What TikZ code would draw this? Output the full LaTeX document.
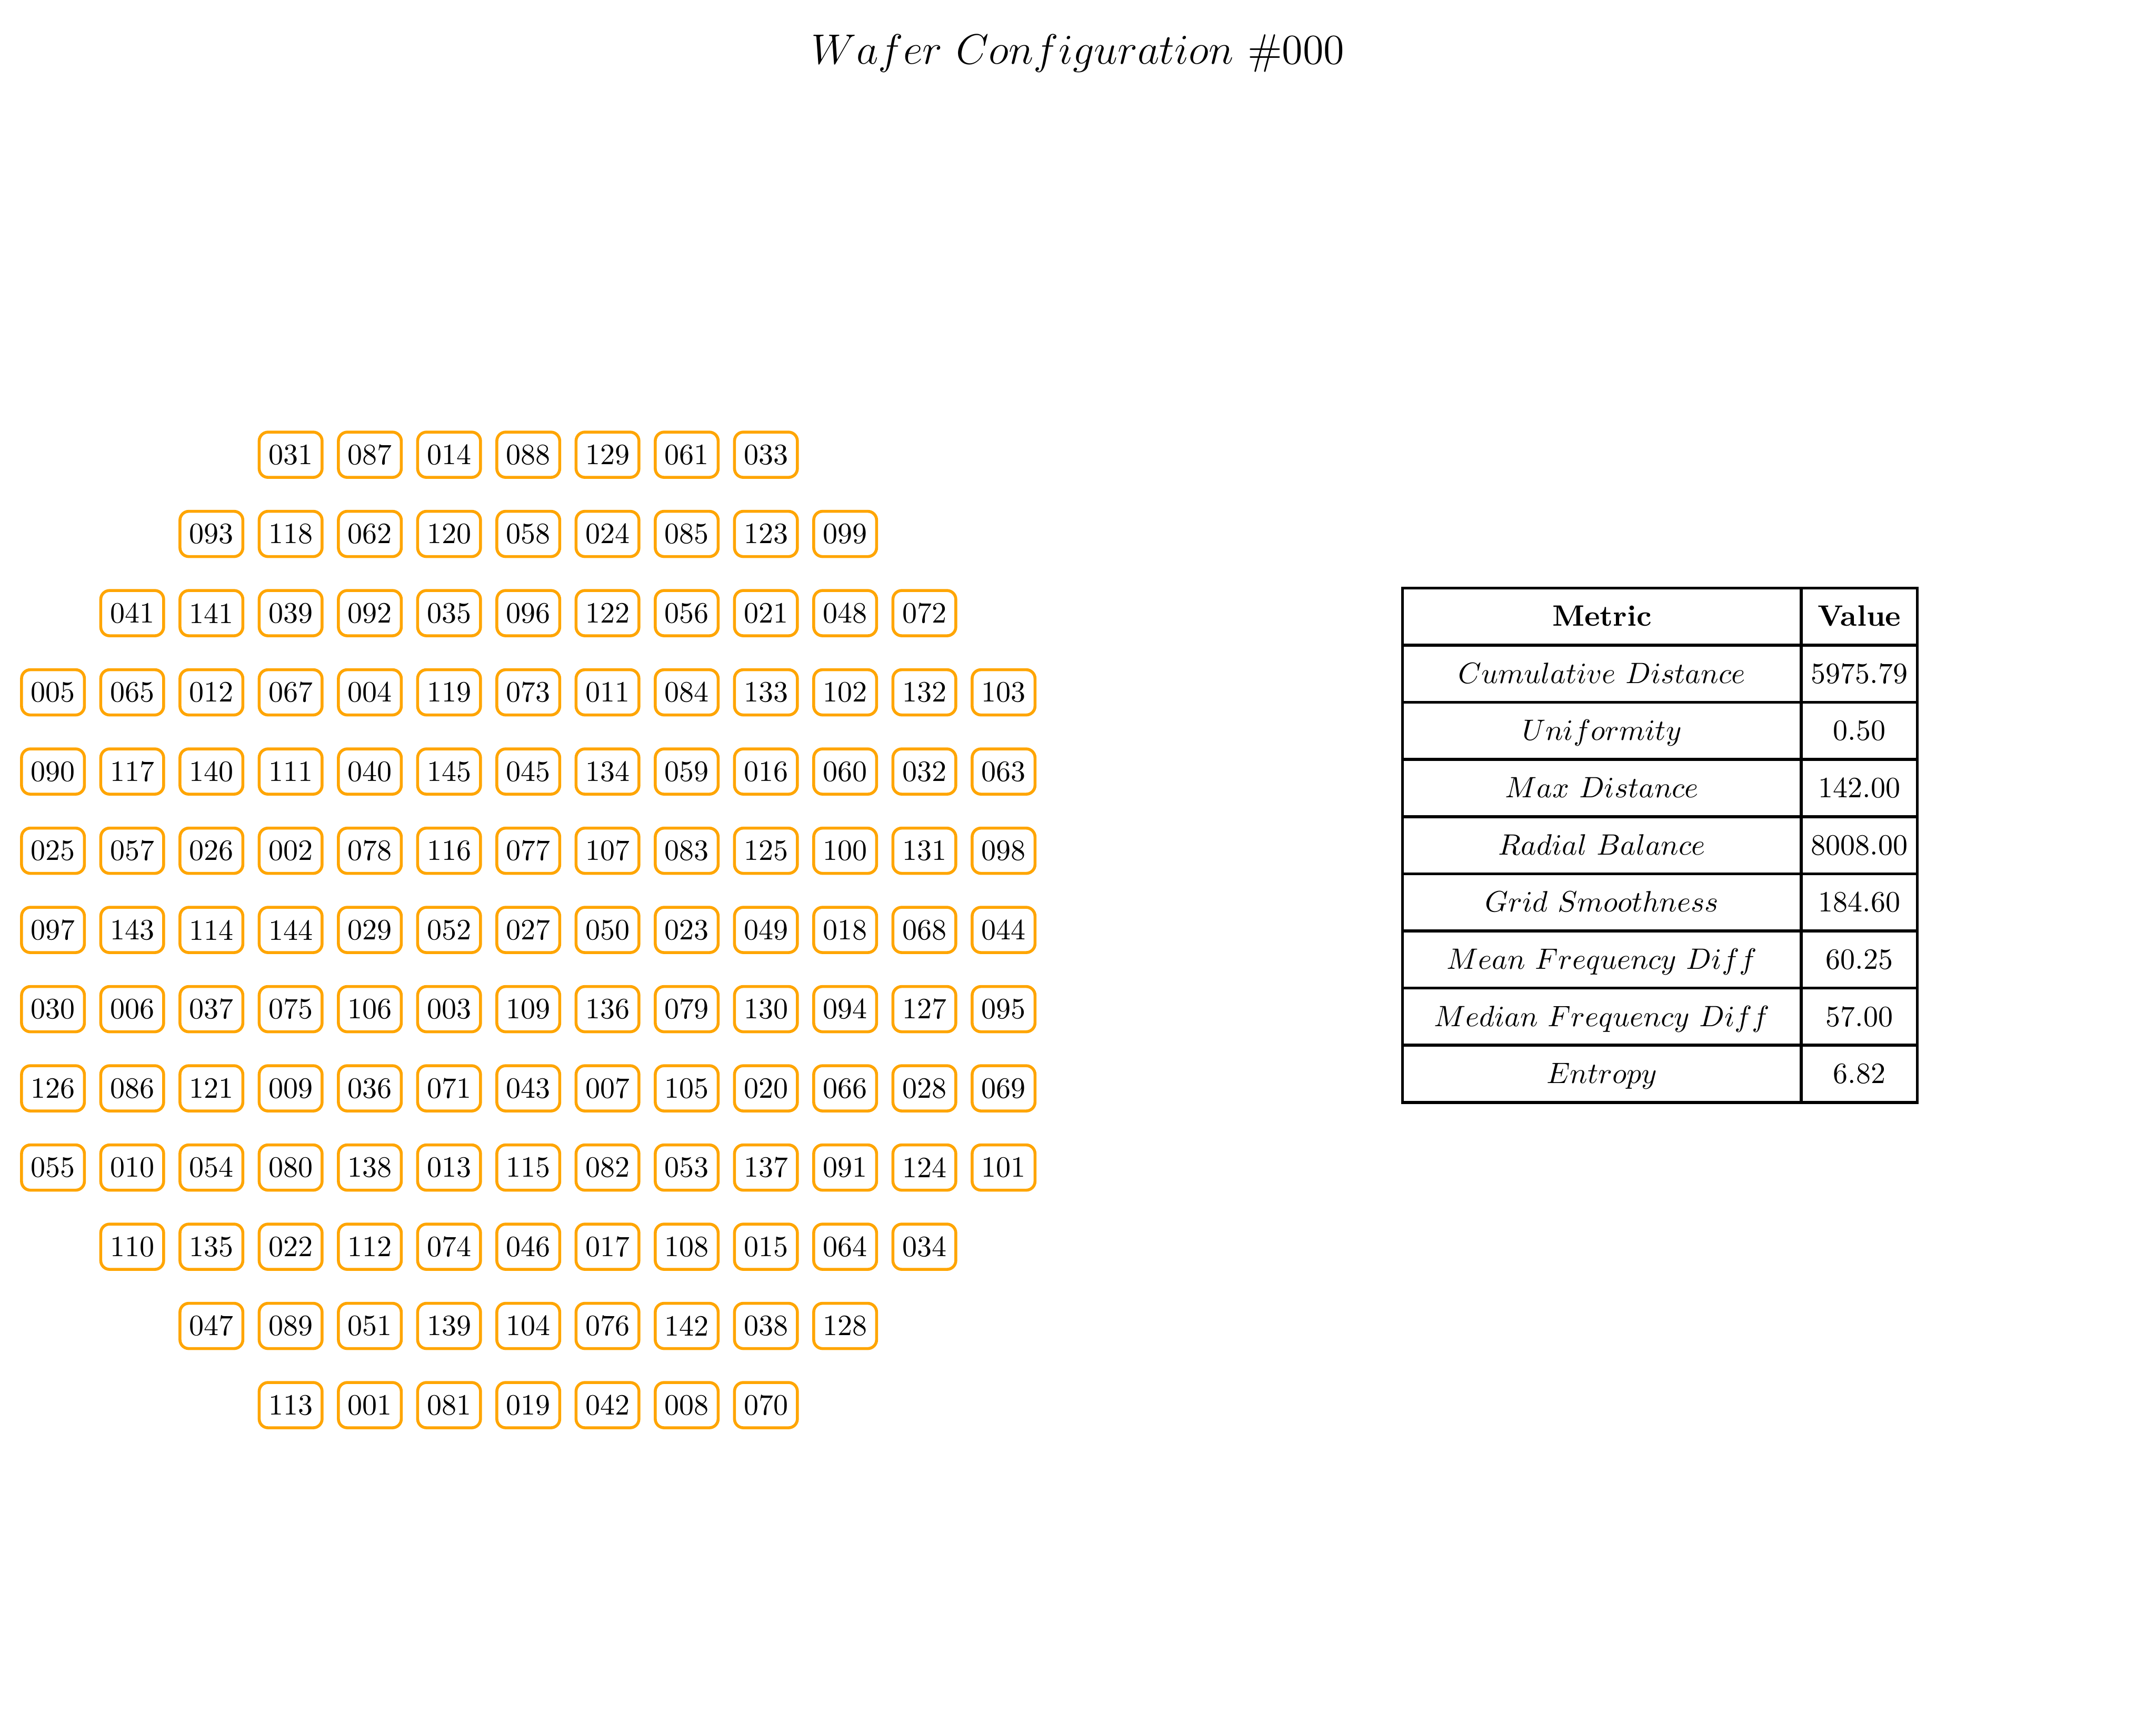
\documentclass[tikz,border=0pt]{standalone}
\usepackage{amsmath,amssymb}
\usepackage{xcolor}
\usepackage{tikz}
\usetikzlibrary{positioning}
\definecolor{waferorange}{RGB}{255,165,0}

\begin{document}
\begin{tikzpicture}[every node/.style={font=\normalsize},
    die/.style={draw=waferorange,line width=1pt,rounded corners=3pt,minimum width=0.75cm,minimum height=0.54cm,inner sep=0pt},
    metriccell/.style={draw,line width=1pt,outer sep=0pt,minimum width=4.758cm,minimum height=0.682cm,inner sep=0pt,text height=1.7ex,text depth=0.2ex},
    valuecell/.style={draw,line width=1pt,outer sep=0pt,minimum width=1.384cm,minimum height=0.682cm,inner sep=0pt,text height=1.7ex,text depth=0.2ex}]
    \useasboundingbox (0,0) rectangle (25.72,-20.57);
    \node[anchor=base] (title) at (12.86,-0.763) {\Large $Wafer\ Configuration\ \#000$};
    % wafer dies, one row per line
    \foreach \id [count=\c from 3] in {031,087,014,088,129,061,033}
        \node[die] (die\id) at (0.632+0.945*\c,-5.426) {\id};
    \foreach \id [count=\c from 2] in {093,118,062,120,058,024,085,123,099}
        \node[die] (die\id) at (0.632+0.945*\c,-5.426-0.945) {\id};
    \foreach \id [count=\c from 1] in {041,141,039,092,035,096,122,056,021,048,072}
        \node[die] (die\id) at (0.632+0.945*\c,-5.426-0.945*2) {\id};
    \foreach \id [count=\c from 0] in {005,065,012,067,004,119,073,011,084,133,102,132,103}
        \node[die] (die\id) at (0.632+0.945*\c,-5.426-0.945*3) {\id};
    \foreach \id [count=\c from 0] in {090,117,140,111,040,145,045,134,059,016,060,032,063}
        \node[die] (die\id) at (0.632+0.945*\c,-5.426-0.945*4) {\id};
    \foreach \id [count=\c from 0] in {025,057,026,002,078,116,077,107,083,125,100,131,098}
        \node[die] (die\id) at (0.632+0.945*\c,-5.426-0.945*5) {\id};
    \foreach \id [count=\c from 0] in {097,143,114,144,029,052,027,050,023,049,018,068,044}
        \node[die] (die\id) at (0.632+0.945*\c,-5.426-0.945*6) {\id};
    \foreach \id [count=\c from 0] in {030,006,037,075,106,003,109,136,079,130,094,127,095}
        \node[die] (die\id) at (0.632+0.945*\c,-5.426-0.945*7) {\id};
    \foreach \id [count=\c from 0] in {126,086,121,009,036,071,043,007,105,020,066,028,069}
        \node[die] (die\id) at (0.632+0.945*\c,-5.426-0.945*8) {\id};
    \foreach \id [count=\c from 0] in {055,010,054,080,138,013,115,082,053,137,091,124,101}
        \node[die] (die\id) at (0.632+0.945*\c,-5.426-0.945*9) {\id};
    \foreach \id [count=\c from 1] in {110,135,022,112,074,046,017,108,015,064,034}
        \node[die] (die\id) at (0.632+0.945*\c,-5.426-0.945*10) {\id};
    \foreach \id [count=\c from 2] in {047,089,051,139,104,076,142,038,128}
        \node[die] (die\id) at (0.632+0.945*\c,-5.426-0.945*11) {\id};
    \foreach \id [count=\c from 3] in {113,001,081,019,042,008,070}
        \node[die] (die\id) at (0.632+0.945*\c,-5.426-0.945*12) {\id};
    % metrics table
    \node[metriccell] (hmetric) at (19.11,-7.357) {\textbf{Metric}};
    \node[valuecell,right=0pt of hmetric] (hvalue) {\textbf{Value}};
    \node[metriccell,below=0pt of hmetric] (m1) {$Cumulative\ Distance$};
    \node[valuecell,right=0pt of m1] (v1) {5975.79};
    \node[metriccell,below=0pt of m1] (m2) {$Uniformity$};
    \node[valuecell,right=0pt of m2] (v2) {0.50};
    \node[metriccell,below=0pt of m2] (m3) {$Max\ Distance$};
    \node[valuecell,right=0pt of m3] (v3) {142.00};
    \node[metriccell,below=0pt of m3] (m4) {$Radial\ Balance$};
    \node[valuecell,right=0pt of m4] (v4) {8008.00};
    \node[metriccell,below=0pt of m4] (m5) {$Grid\ Smoothness$};
    \node[valuecell,right=0pt of m5] (v5) {184.60};
    \node[metriccell,below=0pt of m5] (m6) {$Mean\ Frequency\ Diff$};
    \node[valuecell,right=0pt of m6] (v6) {60.25};
    \node[metriccell,below=0pt of m6] (m7) {$Median\ Frequency\ Diff$};
    \node[valuecell,right=0pt of m7] (v7) {57.00};
    \node[metriccell,below=0pt of m7] (m8) {$Entropy$};
    \node[valuecell,right=0pt of m8] (v8) {6.82};
\end{tikzpicture}
\end{document}
